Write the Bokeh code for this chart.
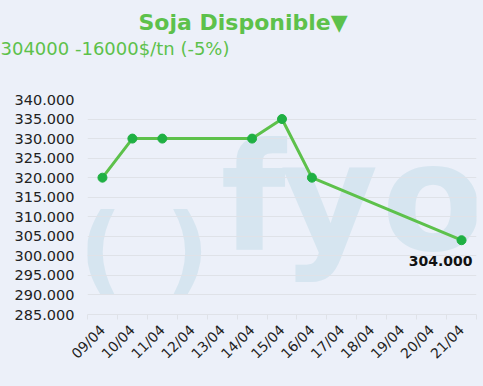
import math
from bokeh.plotting import figure
from bokeh.models import Range1d, FixedTicker, CustomJSTickFormatter, Label, ColumnDataSource, Title
from bokeh.embed import file_html
from bokeh.resources import INLINE

# ---- data ----
categories = ["09/04", "10/04", "11/04", "12/04", "13/04", "14/04", "15/04",
              "16/04", "17/04", "18/04", "19/04", "20/04", "21/04"]
point_dates = ["09/04", "10/04", "11/04", "14/04", "15/04", "16/04", "21/04"]
values = [320000, 330000, 330000, 330000, 335000, 320000, 304000]
y_ticks = [285000, 290000, 295000, 300000, 305000, 310000, 315000,
           320000, 325000, 330000, 335000, 340000]
title_text = "Soja Disponible\u25bc"
subtitle_text = "304000 -16000$/tn (-5%)"
last_label = "304.000"

BG = "#ecf0f9"
GREEN = "#5dc14b"
MARK = "#1fb043"
GRID = "#dfe2e8"
WM = "#d6e5f0"
FONT = "DejaVu Sans"

xs = [categories.index(d) + 0.5 for d in point_dates]

p = figure(width=483, height=386, output_backend="svg", toolbar_location=None,
           x_range=Range1d(0, len(categories)), y_range=Range1d(y_ticks[0], y_ticks[-1]),
           min_border_left=87, min_border_right=7, min_border_top=99, min_border_bottom=72)
p.background_fill_color = BG
p.border_fill_color = BG
p.outline_line_color = None

# x axis: labels at centers, ticks at category boundaries
p.xaxis.ticker = FixedTicker(ticks=[i + 0.5 for i in range(len(categories))],
                             minor_ticks=list(range(len(categories) + 1)))
p.xaxis.major_label_overrides = {i + 0.5: c for i, c in enumerate(categories)}
p.xaxis.major_label_orientation = math.pi / 4
p.xaxis.major_tick_out = 0
p.xaxis.major_tick_in = 0
p.xaxis.minor_tick_out = 5
p.xaxis.minor_tick_in = 0
p.xaxis.minor_tick_line_color = GRID
p.xaxis.axis_line_color = GRID
p.xaxis.major_label_text_font = FONT
p.xaxis.major_label_text_font_size = "14px"
p.xaxis.major_label_text_color = "#222222"
p.xaxis.major_label_standoff = 8
p.xgrid.visible = False

p.yaxis.ticker = FixedTicker(ticks=y_ticks)
p.yaxis.formatter = CustomJSTickFormatter(code="""
return Math.round(tick).toString().replace(/\\B(?=(\\d{3})+(?!\\d))/g, '.');
""")
p.yaxis.axis_line_color = None
p.yaxis.major_tick_line_color = None
p.yaxis.major_tick_out = 0
p.yaxis.major_tick_in = 0
p.yaxis.minor_tick_line_color = None
p.yaxis.major_label_standoff = 13
p.yaxis.major_label_text_font = FONT
p.yaxis.major_label_text_font_size = "14.5px"
p.yaxis.major_label_text_color = "#222222"
p.ygrid.ticker = FixedTicker(ticks=y_ticks)
p.ygrid.grid_line_color = GRID

# watermark (decoration, screen units relative to the plot frame)
def wm(txt, x, y, size, bold=True):
    lab = Label(x=x, y=y, x_units="screen", y_units="screen", text=txt,
                text_font=FONT, text_font_style="bold" if bold else "normal",
                text_font_size=size, text_color=WM, level="image",
                text_baseline="bottom")
    p.add_layout(lab)

wm("f", 133, 30, "150px")
wm("y", 193, 30, "150px")
wm("o", 294, 30, "150px")
wm("(", -9, 10, "96px")
wm(")", 78, 10, "96px")

src = ColumnDataSource(dict(x=xs, y=values))
p.line("x", "y", source=src, line_color=GREEN, line_width=3)
p.scatter("x", "y", source=src, size=9, fill_color=MARK, line_color=MARK)

last = ColumnDataSource(dict(x=[xs[-1]], y=[values[-1]], t=[last_label]))
p.text("x", "y", text="t", source=last, text_align="right", text_baseline="middle",
       x_offset=11, y_offset=21, text_font_style="bold", text_font_size="14px",
       text_color="#111111", text_font={"value": FONT})

# titles (stacked above the plot frame, nearest first)
p.title.visible = False
spacer = Title(text=" ", text_font_size="1px", standoff=37)
sub = Title(text=subtitle_text, align="left", offset=-87, text_font=FONT,
            text_font_size="18px", text_font_style="normal", text_color=GREEN,
            standoff=1)
main = Title(text=title_text, align="left", offset=51, text_font=FONT,
             text_font_size="22px", text_font_style="bold", text_color=GREEN,
             standoff=1)
p.add_layout(spacer, "above")
p.add_layout(sub, "above")
p.add_layout(main, "above")

html = file_html(p, INLINE)
html = html.replace("<head>", "<head><style>html,body{background:%s;}</style>" % BG, 1)
open("out.html", "w").write(html)
